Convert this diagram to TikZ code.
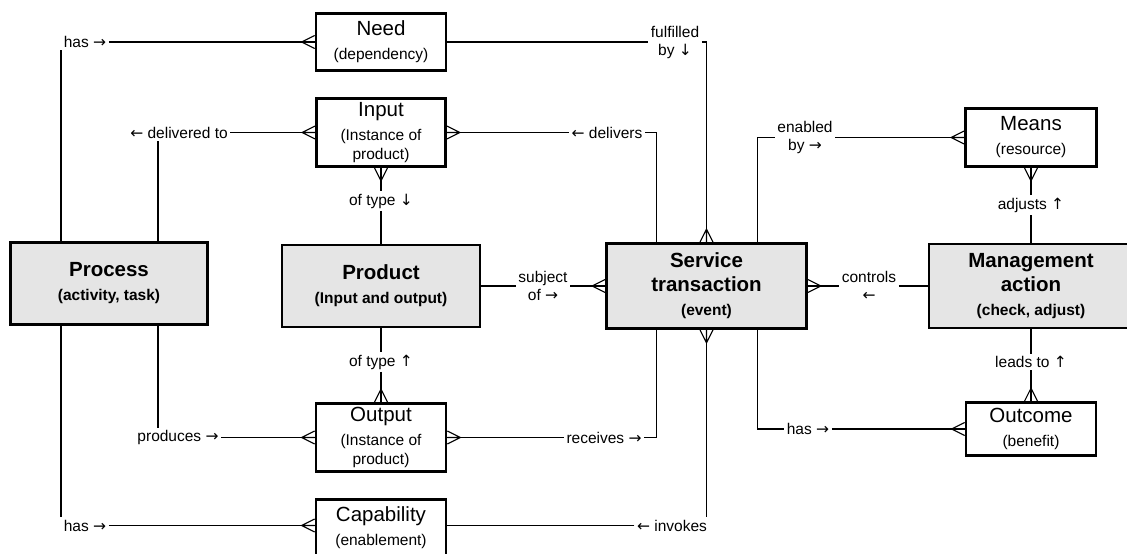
\documentclass[tikz,border=0pt]{standalone}
\usepackage{fontspec}
\setmainfont{Liberation Sans}
\newfontfamily\arrowfont{DejaVu Sans}
\usetikzlibrary{positioning}
\newcommand\rarr{{\arrowfont →}}
\newcommand\larr{{\arrowfont ←}}
\newcommand\uarr{{\arrowfont ↑}}
\newcommand\darr{{\arrowfont ↓}}
\newcommand\subtxt{\fontsize{15.5}{19}\selectfont}
\tikzset{
  entity/.style={draw, line width=2.6pt, align=center, inner sep=0pt,
    font=\fontsize{20.5}{24}\selectfont},
  core/.style={entity, fill=black!10, font=\bfseries\fontsize{20.5}{24}\selectfont},
  rel/.style={align=center, inner sep=2.5pt, font=\fontsize{15.5}{18}\selectfont},
  link/.style={line width=1.4pt},
  crow/.pic={\draw[line width=1.1pt] (0,-6.5) -- (13,0) -- (0,6.5) (0,0) -- (13,0);}
}
\begin{document}
\begin{tikzpicture}[x=1pt, y=-1pt]
  \useasboundingbox (0,0) rectangle (1127,554);
  % entities
  \node[entity, minimum width=130, minimum height=57] (need) at (381,42) {Need\\{\subtxt (dependency)}};
  \node[entity, minimum width=129, minimum height=68] (input) at (381,132.5) {Input\\{\subtxt (Instance of}\\[-5pt]{\subtxt product)}};
  \node[core, minimum width=197, minimum height=82] (process) at (109,283.5) {Process\\{\subtxt (activity, task)}};
  \node[core, minimum width=198, minimum height=82] (product) at (381,286) {Product\\{\subtxt (Input and output)}};
  \node[core, minimum width=200, minimum height=85] (service) at (706.5,286) {Service\\transaction\\{\subtxt (event)}};
  \node[core, minimum width=204, minimum height=84] (mgmt) at (1031,286) {Management\\action\\{\subtxt (check, adjust)}};
  \node[entity, minimum width=131, minimum height=58] (means) at (1031,137.5) {Means\\{\subtxt (resource)}};
  \node[entity, minimum width=130, minimum height=68] (output) at (381,437.5) {Output\\{\subtxt (Instance of}\\[-5pt]{\subtxt product)}};
  \node[entity, minimum width=130, minimum height=53] (outcome) at (1031,429) {Outcome\\{\subtxt (benefit)}};
  \node[entity, minimum width=130, minimum height=57] (capability) at (381,528) {Capability\\{\subtxt (enablement)}};

  % relationship labels
  \node[rel] (hasneed) at (85,42) {has \rarr};
  \node[rel] (delivto) at (179,132.5) {\larr{} delivered to};
  \node[rel] (produces) at (178,437.5) {produces \rarr};
  \node[rel] (hascap) at (85,525.5) {has \rarr};
  \node[rel] (typein) at (381,201) {of type \darr};
  \node[rel] (typeout) at (381,362) {of type \uarr};
  \node[rel] (subject) at (543,286) {subject\\of \rarr};
  \node[rel] (delivers) at (607,132.5) {\larr{} delivers};
  \node[rel] (fulfilled) at (675,42) {fulfilled\\by \darr};
  \node[rel] (enabled) at (805,137.5) {enabled\\by \rarr};
  \node[rel] (controls) at (869,286) {controls\\\larr};
  \node[rel] (adjusts) at (1031,205) {adjusts \uarr};
  \node[rel] (leads) at (1031,362) {leads to \uarr};
  \node[rel] (receives) at (604,437.5) {receives \rarr};
  \node[rel] (invokes) at (672,525.5) {\larr{} invokes};
  \node[rel] (hasout) at (808,429) {has \rarr};

  \coordinate (pneed) at ([xshift=-48pt]process.north);
  \coordinate (pin) at ([xshift=49pt]process.north);
  \coordinate (pcap) at ([xshift=-48pt]process.south);
  \coordinate (pout) at ([xshift=49pt]process.south);
  \coordinate (sinl) at ([xshift=-50pt]service.north);
  \coordinate (sinr) at ([xshift=51pt]service.north);
  \coordinate (soutl) at ([xshift=-50pt]service.south);
  \coordinate (soutr) at ([xshift=51pt]service.south);

  % connectors
  \draw[link] (pneed) -- (pneed |- hasneed.south);
  \draw[link] (hasneed) -- (need);
  \draw[link] (pin) -- (pin |- delivto.south);
  \draw[link] (delivto) -- (input);
  \draw[link] (pout) -- (pout |- produces.north);
  \draw[link] (produces) -- (output);
  \draw[link] (pcap) -- (pcap |- hascap.north);
  \draw[link] (hascap.east) -- (hascap -| capability.west);
  \draw[link] (input) -- (typein);
  \draw[link] (typein) -- (product);
  \draw[link] (product) -- (typeout);
  \draw[link] (typeout) -- (output);
  \draw[link] (product) -- (subject);
  \draw[link] (subject) -- (service);
  \draw[link] (input) -- (delivers);
  \draw[link] (delivers.east) -| (sinl);
  \draw[link] (need) -- (fulfilled);
  \draw[link] (fulfilled.east) -| (service.north);
  \draw[link] (sinr) |- (enabled.west);
  \draw[link] (enabled) -- (means);
  \draw[link] (service) -- (controls);
  \draw[link] (controls) -- (mgmt);
  \draw[link] (mgmt) -- (adjusts);
  \draw[link] (adjusts) -- (means);
  \draw[link] (mgmt) -- (leads);
  \draw[link] (leads) -- (outcome);
  \draw[link] (soutl) |- (receives.east);
  \draw[link] (receives) -- (output);
  \draw[link] (service.south) -- (service.south |- invokes.north);
  \draw[link] (invokes.west) -- (invokes -| capability.east);
  \draw[link] (soutr) |- (hasout.west);
  \draw[link] (hasout) -- (outcome);

  % crow's feet
  \pic[rotate=180] at (need.west) {crow};
  \pic[rotate=180] at (input.west) {crow};
  \pic at (input.east) {crow};
  \pic[rotate=-90] at (input.south) {crow};
  \pic[rotate=180] at (output.west) {crow};
  \pic at (output.east) {crow};
  \pic[rotate=90] at (output.north) {crow};
  \pic[rotate=180] at (hascap -| capability.west) {crow};
  \pic[rotate=180] at (service.west) {crow};
  \pic[rotate=90] at (service.north) {crow};
  \pic[rotate=-90] at (service.south) {crow};
  \pic at (service.east) {crow};
  \pic[rotate=180] at (means.west) {crow};
  \pic[rotate=-90] at (means.south) {crow};
  \pic[rotate=90] at (outcome.north) {crow};
  \pic[rotate=180] at (outcome.west) {crow};
\end{tikzpicture}
\end{document}
